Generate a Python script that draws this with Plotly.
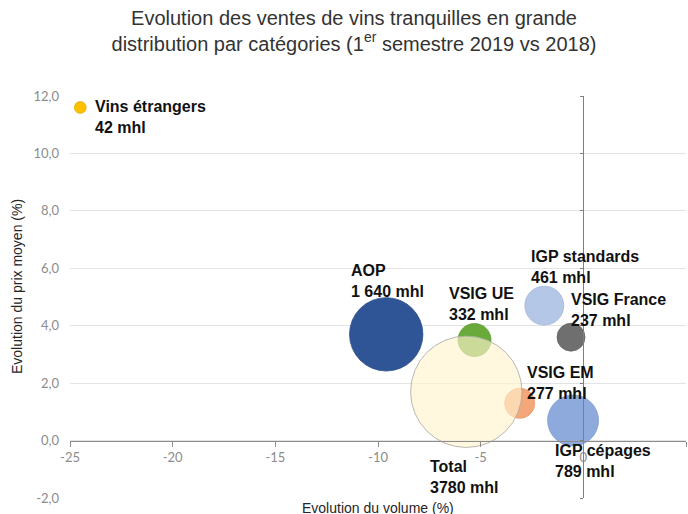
import plotly.graph_objects as go

FONT = "Liberation Sans, Arial, sans-serif"
TICK_FONT = "Lato, Liberation Sans, sans-serif"

categories = ["Vins étrangers", "AOP", "VSIG UE", "VSIG EM", "Total",
              "IGP standards", "VSIG France", "IGP cépages"]
volume_pct = [-24.5, -9.6, -5.3, -3.1, -5.7, -1.9, -0.6, -0.5]
prix_pct = [11.6, 3.7, 3.5, 1.3, 1.7, 4.7, 3.6, 0.7]
volumes_mhl = [42, 1640, 332, 277, 3780, 461, 237, 789]
volume_labels = ["42 mhl", "1 640 mhl", "332 mhl", "277 mhl", "3780 mhl",
                 "461 mhl", "237 mhl", "789 mhl"]

x_ticks = [-25, -20, -15, -10, -5, 0, 5]
x_tick_labels = ["-25", "-20", "-15", "-10", "-5", "0", "5"]
y_ticks = [-2, 0, 2, 4, 6, 8, 10, 12]
y_tick_labels = ["-2,0", "0,0", "2,0", "4,0", "6,0", "8,0", "10,0", "12,0"]

# style per category
fill = {
    "Vins étrangers": "#FFC000",
    "AOP": "#2F5597",
    "VSIG UE": "#6AAA3A",
    "VSIG EM": "#F4A778",
    "Total": "rgba(255,242,204,0.65)",
    "IGP standards": "#B4C7E7",
    "VSIG France": "#6F6F6F",
    "IGP cépages": "#8EA9DB",
}
edge = {
    "Vins étrangers": "#E0A800",
    "AOP": "#2A4C88",
    "VSIG UE": "#5E9A33",
    "VSIG EM": "#E69A6A",
    "Total": "#A6A6A6",
    "IGP standards": "#9FB4D8",
    "VSIG France": "#626262",
    "IGP cépages": "#7F9BCF",
}
# label offsets from bubble centre, in pixels
label_shift = {
    "Vins étrangers": (13, -10),
    "AOP": (-37, 53),
    "VSIG UE": (-28, 36),
    "VSIG EM": (5, 20),
    "Total": (-38, -85),
    "IGP standards": (-15, 39),
    "VSIG France": (-2, 27),
    "IGP cépages": (-20, -41),
}

max_diam = 111.4
sizeref = 2.0 * max(volumes_mhl) / max_diam ** 2

fig = go.Figure()
fig.add_trace(go.Scatter(
    x=volume_pct, y=prix_pct, mode="markers",
    marker=dict(
        size=volumes_mhl, sizemode="area", sizeref=sizeref,
        color=[fill[c] for c in categories],
        line=dict(color=[edge[c] for c in categories], width=0.8),
        opacity=1,
    ),
    hovertext=categories,
    showlegend=False,
))
# helper trace so the vertical axis at x=0 gets drawn
fig.add_trace(go.Scatter(x=[], y=[], yaxis="y2", showlegend=False))

for i, c in enumerate(categories):
    dx, dy = label_shift[c]
    fig.add_annotation(
        x=volume_pct[i], y=prix_pct[i], xref="x", yref="y",
        text=f"<b>{c}<br>{volume_labels[i]}</b>", showarrow=False,
        xanchor="left", yanchor="middle", align="left",
        xshift=dx, yshift=dy,
        font=dict(family=FONT, size=16, color="#111111"),
    )

fig.add_annotation(
    x=0.5, y=0, xref="paper", yref="paper", yshift=-10,
    text="Evolution du volume (%)", showarrow=False,
    xanchor="center", yanchor="middle",
    font=dict(family=FONT, size=14, color="#262626"),
)
fig.add_annotation(
    x=0, y=0.5, xref="paper", yref="paper", xshift=-53, yshift=10,
    text="Evolution du prix moyen (%)", showarrow=False, textangle=-90,
    xanchor="center", yanchor="middle",
    font=dict(family=FONT, size=14, color="#262626"),
)

fig.update_layout(
    width=688, height=514,
    paper_bgcolor="white", plot_bgcolor="white",
    margin=dict(l=70, r=2, t=96, b=16, autoexpand=False),
    title=dict(
        text="Evolution des ventes de vins tranquilles en grande<br>"
             "distribution par catégories (1<sup>er</sup> semestre 2019 vs 2018)",
        x=354 / 688, xanchor="center", y=0.952, yanchor="top",
        font=dict(family=FONT, size=20, color="#333333"),
    ),
    font=dict(family=FONT),
    xaxis=dict(
        range=[-25, 5], tickvals=x_ticks, ticktext=x_tick_labels,
        anchor="free", position=2 / 14, automargin=False,
        showgrid=False, zeroline=False,
        showline=True, linecolor="#8C8C8C", linewidth=1,
        ticks="outside", ticklen=5, tickcolor="#8C8C8C",
        tickfont=dict(family=TICK_FONT, size=13, color="#8C8C8C"),
    ),
    yaxis=dict(
        range=[-2, 12], tickvals=y_ticks, ticktext=y_tick_labels,
        automargin=False,
        showgrid=True, gridcolor="#E3E3E3", zeroline=False,
        showline=False, ticks="", ticklabelstandoff=10,
        tickfont=dict(family=TICK_FONT, size=13, color="#8C8C8C"),
    ),
    yaxis2=dict(
        range=[-2, 12], tickvals=y_ticks, overlaying="y",
        anchor="free", position=25 / 30, side="left", automargin=False,
        showgrid=False, zeroline=False, showticklabels=False,
        showline=True, linecolor="#7F7F7F", linewidth=1,
        ticks="outside", ticklen=3, tickcolor="#7F7F7F",
    ),
)

fig.write_html("out.html", config={"displayModeBar": False},
               post_script="document.body.style.margin = '0';")
